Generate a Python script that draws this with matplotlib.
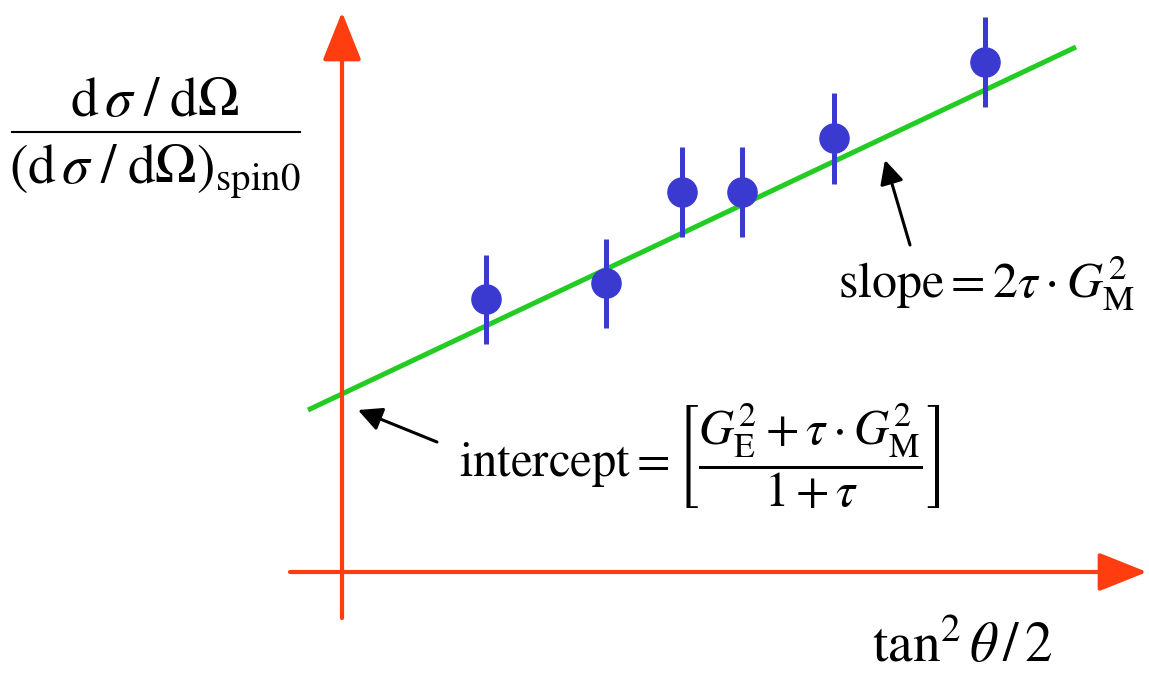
import matplotlib
matplotlib.use("Agg")
import matplotlib.pyplot as plt

plt.rcParams['mathtext.fontset'] = 'stix'
plt.rcParams['font.family'] = ['Liberation Serif', 'DejaVu Serif']

# measurements (arbitrary units, origin at the axes crossing)
x_pts = [1.44, 2.64, 3.40, 4.00, 4.92, 6.43]
y_pts = [2.73, 2.89, 3.80, 3.80, 4.34, 5.10]
y_err = [0.445, 0.445, 0.45, 0.45, 0.455, 0.45]

# straight-line fit, drawn between these two ends
fit_x = [-0.34, 7.34]
fit_y = [1.62, 5.25]

red = '#FF3D0F'
green = '#22CC22'
blue = '#3A3AD0'

fig = plt.figure(figsize=(11.49, 6.73), dpi=100)
ax = fig.add_axes([0, 0, 1, 1])
ax.set_xlim(-3.42, 8.07)
ax.set_ylim(-1.01, 5.72)
ax.axis('off')

# red axes with arrow heads
head = '-|>,head_length=1.5,head_width=0.6'
ax.annotate('', xy=(0, 5.60), xytext=(0, -0.46),
            arrowprops=dict(arrowstyle=head, color=red, lw=3,
                            mutation_scale=20, shrinkA=0, shrinkB=0))
ax.annotate('', xy=(8.05, 0), xytext=(-0.52, 0),
            arrowprops=dict(arrowstyle=head, color=red, lw=3,
                            mutation_scale=20, shrinkA=0, shrinkB=0))

ax.plot(fit_x, fit_y, color=green, lw=3.6, solid_capstyle='butt', zorder=2)
ax.errorbar(x_pts, y_pts, yerr=y_err, fmt='o', color=blue, ecolor=blue,
            markersize=21, elinewidth=3.6, capsize=0, zorder=3)

# black pointer arrows
ax.annotate('', xy=(5.43, 4.12), xytext=(5.68, 3.27),
            arrowprops=dict(arrowstyle='-|>,head_length=0.9,head_width=0.45',
                            color='black', lw=2.2, mutation_scale=16, shrinkA=0, shrinkB=0))
ax.annotate('', xy=(0.16, 1.62), xytext=(0.95, 1.30),
            arrowprops=dict(arrowstyle='-|>,head_length=0.9,head_width=0.45',
                            color='black', lw=2.2, mutation_scale=16, shrinkA=0, shrinkB=0))

ax.text(6.44, 2.88, r'$\mathrm{slope} = 2\tau \cdot G_{\mathrm{M}}^{2}$',
        fontsize=36, ha='center', va='center')
ax.text(3.58, 1.16,
        r'$\mathrm{intercept} = \left[\dfrac{G_{\mathrm{E}}^{2} + \tau \cdot G_{\mathrm{M}}^{2}}{1 + \tau}\right]$',
        fontsize=35, ha='center', va='center')
ax.text(6.20, -0.76, r'$\tan^{2}\theta\,/\,2$', fontsize=40, ha='center', va='center')

# y label as a stacked fraction
ax.text(-1.87, 4.70, r'$\mathrm{d}\,\sigma\;/\;\mathrm{d}\Omega$', fontsize=40,
        ha='center', va='center')
ax.plot([-3.30, -0.42], [4.40, 4.40], color='black', lw=1.5)
ax.text(-1.87, 4.00, r'$\left(\mathrm{d}\,\sigma\;/\;\mathrm{d}\Omega\right)_{\mathrm{spin0}}$',
        fontsize=40, ha='center', va='center')

fig.savefig('out.png', dpi=100)
